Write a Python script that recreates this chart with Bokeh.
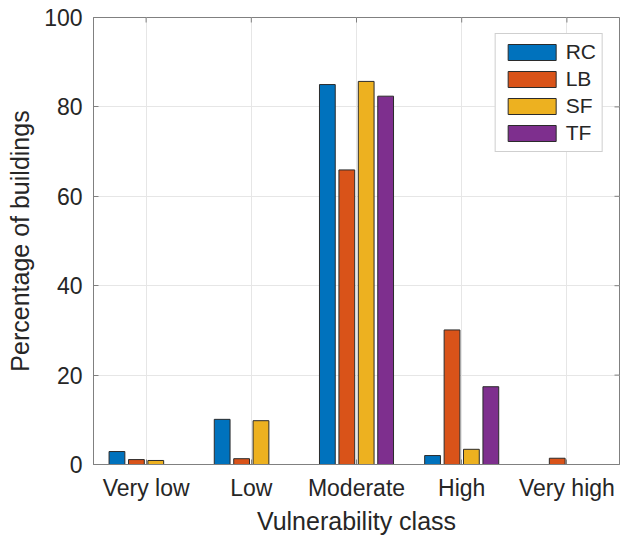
import math
from bokeh.plotting import figure
from bokeh.models import (ColumnDataSource, Range1d, FixedTicker,
                          Legend, LegendItem)
from bokeh.transform import dodge
from bokeh.embed import file_html
from bokeh.resources import INLINE

categories = ["Very low", "Low", "Moderate", "High", "Very high"]
series = ["RC", "LB", "SF", "TF"]
colors = ["#0072BD", "#D95319", "#EDB120", "#7E2F8E"]
rc = [2.9, 10.1, 85.0, 2.0, 0.0]
lb = [1.1, 1.3, 65.9, 30.1, 1.4]
sf = [0.9, 9.8, 85.7, 3.4, 0.0]
tf = [0.0, 0.0, 82.4, 17.4, 0.0]
y_ticks = [0, 20, 40, 60, 80, 100]

xpos = list(range(1, len(categories) + 1))
src = ColumnDataSource(dict(x=xpos, RC=rc, LB=lb, SF=sf, TF=tf))

FONT = "Liberation Sans"
TXT = "#262626"
AX = "#808080"

xr = Range1d(0.5, 5.5)
yr = Range1d(0, 100)
p = figure(width=621, height=538, output_backend="svg", toolbar_location=None,
           x_range=xr, y_range=yr,
           min_border_left=93, min_border_right=2, min_border_top=17,
           min_border_bottom=74)

offsets = [-0.277, -0.092, 0.092, 0.277]
items = []
for s, c, o in zip(series, colors, offsets):
    r = p.vbar(x=dodge("x", o, range=p.x_range), top=s, width=0.15, source=src,
               fill_color=c, line_color="#2b2b2b", line_width=1)
    items.append(LegendItem(label=s, renderers=[r]))

# mirrored inward ticks on the right and top edges (box on)
p.scatter(x=[xr.end] * len(y_ticks), y=y_ticks, marker="dash", size=10,
          line_color=AX, line_width=1)
p.scatter(x=xpos, y=[yr.end] * len(xpos), marker="dash", size=10,
          angle=math.pi / 2, line_color=AX, line_width=1)

legend = Legend(items=items, location="top_right")
legend.label_text_font = FONT
legend.label_text_font_size = "21px"
legend.label_text_color = TXT
legend.glyph_width = 60
legend.glyph_height = 20
legend.spacing = 3
legend.padding = 6
legend.margin = 16
legend.label_standoff = 4
legend.border_line_color = "#a0a0a0"
legend.border_line_width = 1
legend.background_fill_alpha = 1
p.add_layout(legend)

p.outline_line_color = AX
p.outline_line_width = 1

xa = p.xaxis[0]
xa.ticker = FixedTicker(ticks=xpos)
xa.major_label_overrides = {i: c for i, c in zip(xpos, categories)}
xa.axis_label = "Vulnerability class"
ya = p.yaxis[0]
ya.ticker = FixedTicker(ticks=y_ticks)
ya.axis_label = "Percentage of buildings"
for a in (xa, ya):
    a.axis_line_color = AX
    a.major_tick_line_color = AX
    a.major_tick_in = 5
    a.major_tick_out = 0
    a.minor_tick_line_color = None
    a.major_label_text_font = FONT
    a.major_label_text_font_size = "23px"
    a.major_label_text_color = TXT
    a.axis_label_text_font = FONT
    a.axis_label_text_font_size = "25px"
    a.axis_label_text_font_style = "normal"
    a.axis_label_text_color = TXT
xa.major_label_standoff = 10
xa.axis_label_standoff = 3
ya.major_label_standoff = 11
ya.axis_label_standoff = 7

p.xgrid.ticker = FixedTicker(ticks=xpos)
p.xgrid.grid_line_color = "#e6e6e6"
p.ygrid.grid_line_color = "#e6e6e6"

open("out.html", "w").write(file_html(p, INLINE))
